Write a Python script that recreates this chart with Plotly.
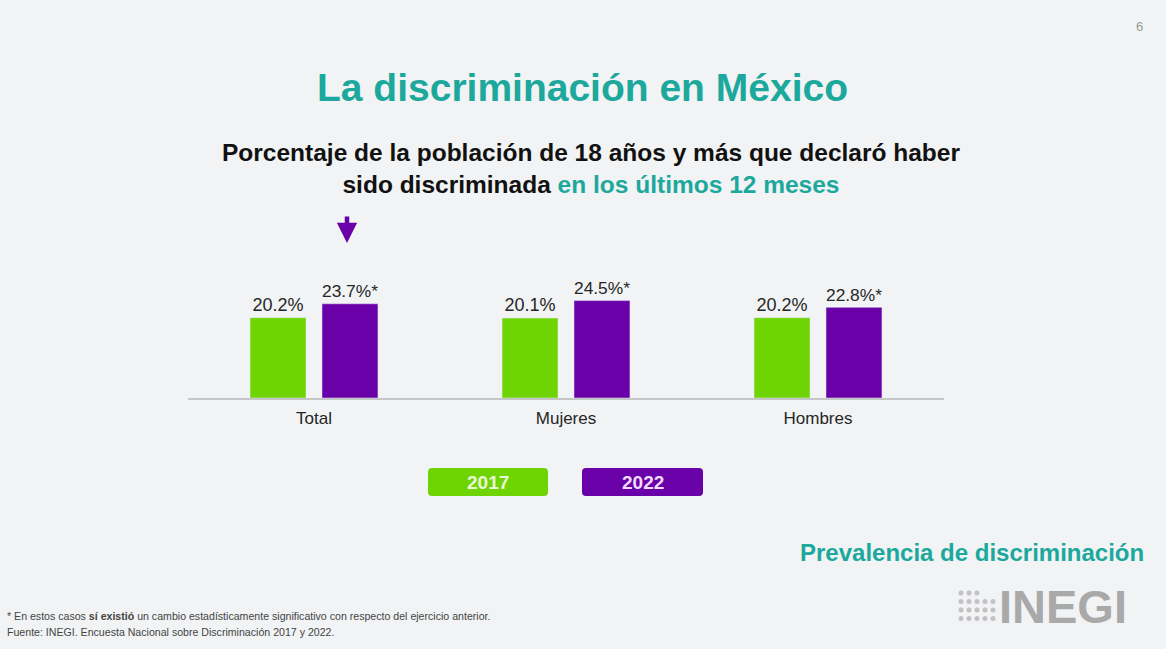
import plotly.graph_objects as go

W, H = 1166, 649

categories = ["Total", "Mujeres", "Hombres"]
years = ["2017", "2022"]
values_2017 = [20.2, 20.1, 20.2]
values_2022 = [23.7, 24.5, 22.8]
marks_2022 = ["*", "*", "*"]

GREEN = "#6ed404"
PURPLE = "#6a00a8"
TEAL = "#1ca89c"
BG = "#f1f3f4"

def px(x):
    return x / W

def py(y):
    return 1 - y / H

fig = go.Figure()
fig.add_trace(go.Bar(
    x=categories, y=values_2017, name=years[0], marker_color=GREEN,
    text=[f"{v:.1f}%" for v in values_2017], textposition="outside",
    textfont=dict(size=18, color="#262626", family="Liberation Sans"),
    cliponaxis=False,
))
fig.add_trace(go.Bar(
    x=categories, y=values_2022, name=years[1], marker_color=PURPLE,
    text=[f"{v:.1f}%{m}" for v, m in zip(values_2022, marks_2022)], textposition="outside",
    textfont=dict(size=18, color="#262626", family="Liberation Sans"),
    cliponaxis=False,
))

fig.update_layout(
    width=W, height=H,
    margin=dict(l=0, r=0, t=0, b=0),
    paper_bgcolor=BG, plot_bgcolor=BG,
    showlegend=False,
    barmode="group", bargap=0.429, bargroupgap=0.222,
    font=dict(family="Liberation Sans", color="#262626"),
    xaxis=dict(
        domain=[px(188), px(944)], range=[-0.5, 2.5],
        showline=True, linecolor="#c4c6c8", linewidth=1.5,
        showgrid=False, zeroline=False, ticks="",
        ticklabelstandoff=4,
        tickfont=dict(size=17, color="#262626"),
    ),
    yaxis=dict(
        domain=[py(398), py(237)], range=[0, 40.5],
        visible=False, showgrid=False, zeroline=False,
    ),
)

P = dict(xref="paper", yref="paper", yanchor="middle", xanchor="center")
ann = []
ann.append(dict(**P, x=px(1139), y=py(27), text="6", showarrow=False,
                font=dict(size=13, color="#9a9a9a")))
ann.append(dict(**P, x=px(582), y=py(87), text="<b>La discriminación en México</b>", showarrow=False,
                font=dict(size=39, color=TEAL)))
ann.append(dict(**P, x=px(591), y=py(168),
                text="<b>Porcentaje de la población de 18 años y más que declaró haber<br>sido discriminada "
                     f"<span style='color:{TEAL}'>en los últimos 12 meses</span></b>",
                showarrow=False, align="center",
                font=dict(size=24.5, color="#111111")))
# arrow
ann.append(dict(xref="paper", yref="paper", x=px(347), y=py(243), axref="pixel", ayref="pixel", ax=0, ay=-28,
                showarrow=True, arrowhead=2, arrowsize=0.9, arrowwidth=4.5,
                arrowcolor=PURPLE, text=""))
P_right = dict(P, xanchor="right")
ann.append(dict(**P_right, x=px(1146), y=py(552), text="<b>Prevalencia de discriminación</b>",
                showarrow=False, font=dict(size=24, color=TEAL)))
ann.append(dict(**P, x=px(1063), y=py(606), text="<b>INEGI</b>", showarrow=False,
                font=dict(size=47, color="#a9a9a9")))
P_left = dict(P, xanchor="left")
ann.append(dict(**P_left, x=px(5), y=py(616),
                text="* En estos casos <b>sí existió</b> un cambio estadísticamente significativo con respecto del ejercicio anterior.",
                showarrow=False, font=dict(size=10.6, color="#444444")))
ann.append(dict(**P_left, x=px(5), y=py(632),
                text="Fuente: INEGI. Encuesta Nacional sobre Discriminación 2017 y 2022.",
                showarrow=False, font=dict(size=10.6, color="#444444")))

shapes = []

def rounded(x0, x1, y0, y1, r=4):
    rx, ry = r / W, r / H
    X0, X1, Yt, Yb = px(x0), px(x1), py(y0), py(y1)
    return (f"M {X0+rx},{Yt} L {X1-rx},{Yt} Q {X1},{Yt} {X1},{Yt-ry} "
            f"L {X1},{Yb+ry} Q {X1},{Yb} {X1-rx},{Yb} L {X0+rx},{Yb} Q {X0},{Yb} {X0},{Yb+ry} "
            f"L {X0},{Yt-ry} Q {X0},{Yt} {X0+rx},{Yt} Z")

# legend boxes
for (x0, x1, col, lab, tcol) in [(428, 548, GREEN, years[0], "#eaf8d4"), (582, 703, PURPLE, years[1], "#f1dcff")]:
    shapes.append(dict(type="path", xref="paper", yref="paper", path=rounded(x0, x1, 468, 496),
                       fillcolor=col, line=dict(width=0), layer="above"))
    ann.append(dict(**P, x=px((x0 + x1) / 2), y=py(482), text=f"<b>{lab}</b>", showarrow=False,
                    font=dict(size=19, color=tcol)))
# INEGI logo dots
for ci, cx in enumerate([961, 969, 977, 985, 993]):
    for ri in range(4):
        if ci >= 3 and ri < 1:
            continue
        cy = 593 + ri * 8.5
        shapes.append(dict(type="circle", xref="paper", yref="paper",
                           x0=px(cx - 2.5), x1=px(cx + 2.5), y0=py(cy + 2.5), y1=py(cy - 2.5),
                           fillcolor="#c2c2c2", line=dict(width=0)))
fig.update_layout(annotations=ann, shapes=shapes)

fig.write_html("out.html")
